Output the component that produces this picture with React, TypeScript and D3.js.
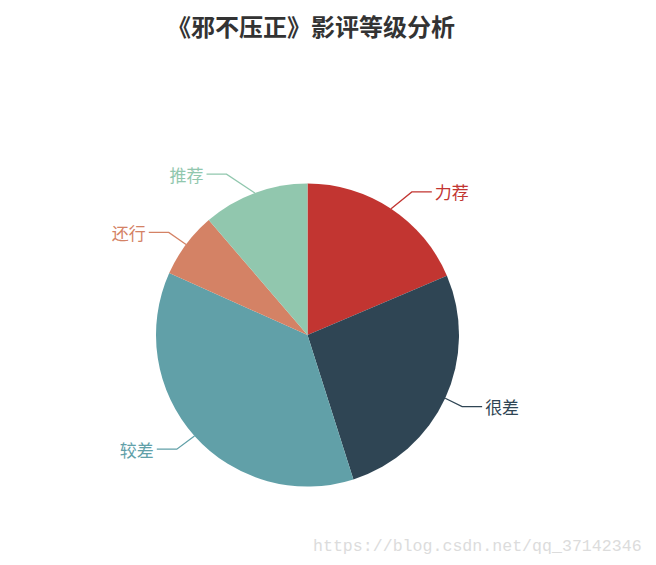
import * as d3 from 'd3'

// review counts per rating level
const categories = ['力荐', '很差', '较差', '还行', '推荐']
const counts = [186, 265, 366, 70, 113]
const palette = ['#c23531', '#2f4554', '#61a0a8', '#d48265', '#91c7ae']
const titleText = '《邪不压正》影评等级分析'
const watermark = 'https://blog.csdn.net/qq_37142346'

const W = 656
const H = 565
const cx = 307.5
const cy = 335
const radius = 151.5
const lineLen = 20
const lineLen2 = 20

export default function App() {
  const pie = d3.pie<number>().sort(null).value((d) => d)
  const arcs = pie(counts)
  const arc = d3.arc<d3.PieArcDatum<number>>().innerRadius(0).outerRadius(radius)
  const color = d3.scaleOrdinal<string, string>().domain(categories).range(palette)

  // label placement in the echarts way: y from the radial line, x pushed onto an outer circle
  const labels = arcs.map((a, i) => {
    const mid = (a.startAngle + a.endAngle) / 2
    const dx = Math.sin(mid)
    const dy = -Math.cos(mid)
    const side = dx < 0 ? -1 : 1
    const p1: [number, number] = [cx + radius * dx, cy + radius * dy]
    const y = cy + (radius + lineLen) * dy
    const outer = radius + lineLen + lineLen2
    const deltaX = Math.sqrt(outer * outer - (y - cy) * (y - cy))
    const lx = cx + side * deltaX
    const p3x = lx - side * 3
    const p2x = p3x - side * lineLen2
    return {
      name: categories[i],
      side,
      lx,
      y,
      points: [p1, [p2x, y], [p3x, y]] as [number, number][],
    }
  })

  const line = d3.line()

  return (
    <svg
      width={W}
      height={H}
      style={{ position: 'absolute', left: 0, top: 0, background: '#fff' }}
    >
      <text
        x={311}
        y={25}
        textAnchor="middle"
        dominantBaseline="central"
        fontFamily="'Noto Sans CJK SC', sans-serif"
        fontWeight="bold"
        fontSize={24}
        fill="#333"
      >
        {titleText}
      </text>

      <g transform={`translate(${cx},${cy})`}>
        {arcs.map((a, i) => (
          <path key={categories[i]} d={arc(a) || ''} fill={color(categories[i])} />
        ))}
      </g>

      {labels.map((l) => (
        <g key={l.name}>
          <path d={line(l.points) || ''} fill="none" stroke={color(l.name)} strokeWidth={1.3} />
          <text
            x={l.lx}
            y={l.y}
            textAnchor={l.side > 0 ? 'start' : 'end'}
            dominantBaseline="central"
            fontFamily="'Noto Sans CJK SC', sans-serif"
            fontSize={17}
            fill={color(l.name)}
          >
            {l.name}
          </text>
        </g>
      ))}

      <text
        x={313}
        y={551}
        fontFamily="'Liberation Mono', monospace"
        fontSize={16.6}
        fill="#dcdcdc"
      >
        {watermark}
      </text>
    </svg>
  )
}
